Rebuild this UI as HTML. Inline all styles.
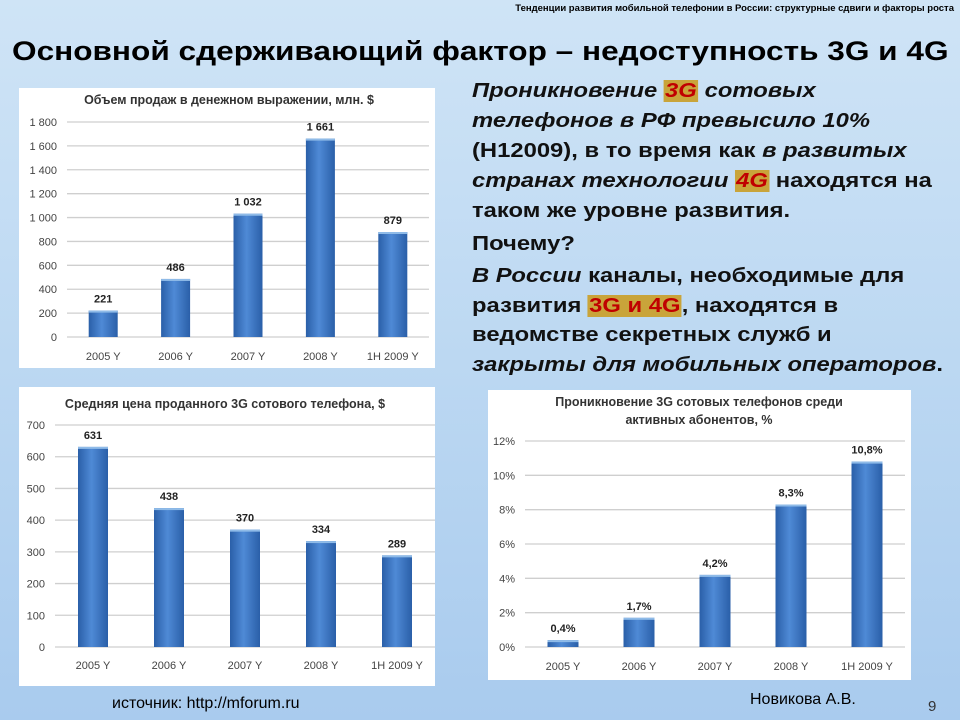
<!DOCTYPE html>
<html><head><meta charset="utf-8"><style>
body{margin:0;width:960px;height:720px;overflow:hidden;font-family:"Liberation Sans",sans-serif;background:linear-gradient(180deg,#cfe4f6 0%,#bcd8f2 50%,#a9cbee 100%);position:relative}
.abs{position:absolute}
.t{font-size:20px;font-weight:bold;color:#111;line-height:30px;white-space:nowrap}
.r{color:#c00000;background:#c9a43a;padding:0 1px}
</style></head><body>
<div class="abs" style="right:6px;top:3px;font-size:9.5px;font-weight:bold">Тенденции развития мобильной телефонии в России: структурные сдвиги и факторы роста</div>
<div class="abs" style="left:12px;top:36px;font-size:27px;font-weight:bold;white-space:nowrap;transform:scaleX(1.17);transform-origin:0 0">Основной сдерживающий фактор – недоступность 3G и 4G</div>
<div class="abs t" style="left:472px;top:76px;transform:scaleX(1.19);transform-origin:0 0">
<i>Проникновение <span class="r">3G</span> сотовых</i><br>
<i>телефонов в РФ превысило 10%</i><br>
(Н12009), в то время как <i>в развитых</i><br>
<i>странах технологии <span class="r">4G</span></i> находятся на<br>
таком же уровне развития.
<div style="margin-top:3px">Почему?</div>
<div style="margin-top:3px;line-height:29.5px"><i>В России</i> каналы, необходимые для<br>развития <span class="r">3G и 4G</span>, находятся в<br>ведомстве секретных служб и<br><i>закрыты для мобильных операторов</i>.</div>
</div>
<div class="abs" style="left:112px;top:695px;font-size:16px">источник: http://mforum.ru</div>
<div class="abs" style="left:750px;top:691px;font-size:16px">Новикова А.В.</div>
<div class="abs" style="left:928px;top:698px;font-size:15px;color:#333">9</div>
<svg class="abs" style="left:0;top:0" width="960" height="720">
<defs><linearGradient id="bg" x1="0" x2="1"><stop offset="0" stop-color="#2a5fa8"/><stop offset="0.45" stop-color="#4f8ad6"/><stop offset="1" stop-color="#2a5fa8"/></linearGradient></defs>
<g id="c1"></g><g id="c2"></g><g id="c3"></g>
</svg>
<script>
const cats=["2005 Y","2006 Y","2007 Y","2008 Y","1H 2009 Y"];
const sales=[221,486,1032,1661,879];
const salesLabels=["221","486","1 032","1 661","879"];
const salesTicks=["0","200","400","600","800","1 000","1 200","1 400","1 600","1 800"];
const price=[631,438,370,334,289];
const priceLabels=["631","438","370","334","289"];
const priceTicks=["0","100","200","300","400","500","600","700"];
const pen=[0.4,1.7,4.2,8.3,10.8];
const penLabels=["0,4%","1,7%","4,2%","8,3%","10,8%"];
const penTicks=["0%","2%","4%","6%","8%","10%","12%"];
const NS="http://www.w3.org/2000/svg";
function el(g,tag,a,txt){const e=document.createElementNS(NS,tag);for(const k in a)e.setAttribute(k,a[k]);if(txt!==undefined)e.textContent=txt;g.appendChild(e);return e;}
function chart(id,o){
 const g=document.getElementById(o.id);
 const p=el(g,'rect',{x:o.px,y:o.py,width:o.pw,height:o.ph,fill:'#fff'});
 
 o.title.forEach((t,i)=>{const e=el(g,'text',{x:o.tx,y:o.ty+i*18,'text-anchor':'middle','font-size':12.5,'font-weight':'bold',fill:'#333'},t);
  });
 const n=o.ticks.length-1;
 const y=v=>o.y0-(v/o.max)*(o.y0-o.y1);
 o.ticks.forEach((t,i)=>{const v=o.max*i/n,yy=y(v);
  const l=el(g,'line',{x1:o.l,x2:o.r,y1:yy,y2:yy,stroke:'#cfcfcf','stroke-width':1.3});
  
  const e=el(g,'text',{x:o.l-10,y:yy+4,'text-anchor':'end','font-size':11,fill:'#444'},t);
  });
 const step=(o.r-o.l)/cats.length;
 o.vals.forEach((v,i)=>{const cx=o.l+step*(i+0.5),top=y(v);
  const b=el(g,'rect',{x:cx-o.bw/2,y:top,width:o.bw,height:o.y0-top,fill:'url(#bg)'});
  
  el(g,'rect',{x:cx-o.bw/2,y:top,width:o.bw,height:2,fill:'#8fbbe8'});
  const vl=el(g,'text',{x:cx,y:top-8,'text-anchor':'middle','font-size':11,'font-weight':'bold',fill:'#222'},o.labels[i]);
  
  const xl=el(g,'text',{x:cx,y:o.xly,'text-anchor':'middle','font-size':11,fill:'#444'},cats[i]);
  });
}
chart('sales-chart',{id:'c1',px:19,py:88,pw:416,ph:280,title:["Объем продаж в денежном выражении, млн. $"],tx:229,ty:104,l:67,r:429,y0:337,y1:122,max:1800,ticks:salesTicks,vals:sales,labels:salesLabels,bw:29,xly:360});
chart('price-chart',{id:'c2',px:19,py:387,pw:416,ph:299,title:["Средняя цена проданного 3G сотового телефона, $"],tx:225,ty:408,l:55,r:435,y0:647,y1:425,max:700,ticks:priceTicks,vals:price,labels:priceLabels,bw:30,xly:669});
chart('penetration-chart',{id:'c3',px:488,py:390,pw:423,ph:290,title:["Проникновение 3G сотовых телефонов среди","активных абонентов, %"],tx:699,ty:406,l:525,r:905,y0:647,y1:441,max:12,ticks:penTicks,vals:pen,labels:penLabels,bw:31,xly:670});
</script>
</body></html>
